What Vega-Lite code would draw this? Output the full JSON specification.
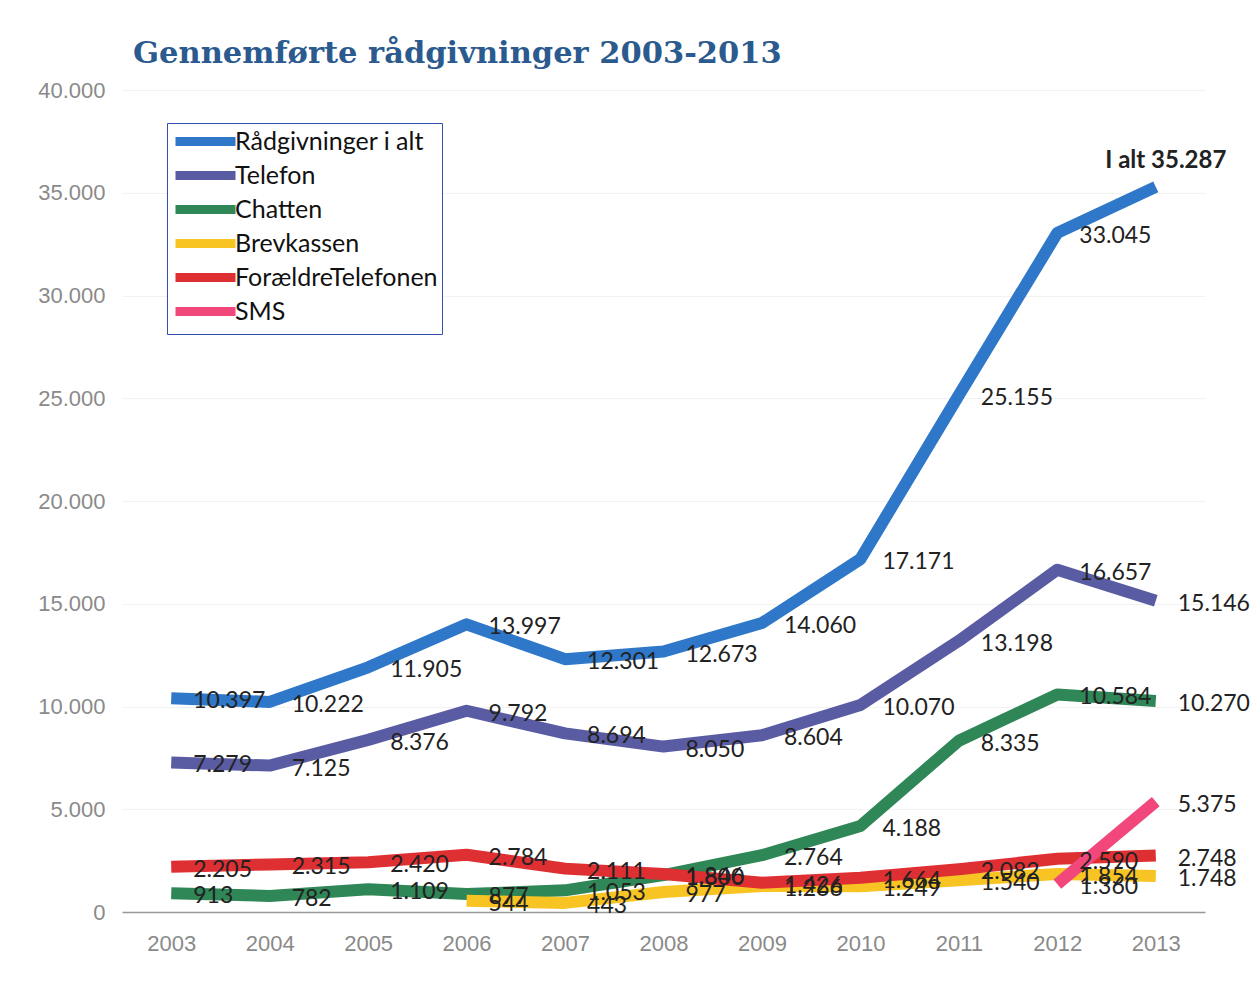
{
  "$schema": "https://vega.github.io/schema/vega-lite/v6.json",
  "width": 1083,
  "height": 822,
  "autosize": {"type": "none"},
  "padding": {"left": 122, "top": 90, "right": 53, "bottom": 74},
  "background": "white",
  "config": {"view": {"stroke": null}},
  "title": {
    "text": "Gennemførte rådgivninger 2003-2013",
    "anchor": "start",
    "frame": "group",
    "dx": 11,
    "offset": 10,
    "font": "DejaVu Serif",
    "fontWeight": "bold",
    "fontSize": 30.5,
    "color": "#2b5a8e"
  },
  "data": {
    "values": [
      {"year": "2003", "series": "Rådgivninger i alt", "value": 10397},
      {"year": "2004", "series": "Rådgivninger i alt", "value": 10222},
      {"year": "2005", "series": "Rådgivninger i alt", "value": 11905},
      {"year": "2006", "series": "Rådgivninger i alt", "value": 13997},
      {"year": "2007", "series": "Rådgivninger i alt", "value": 12301},
      {"year": "2008", "series": "Rådgivninger i alt", "value": 12673},
      {"year": "2009", "series": "Rådgivninger i alt", "value": 14060},
      {"year": "2010", "series": "Rådgivninger i alt", "value": 17171},
      {"year": "2011", "series": "Rådgivninger i alt", "value": 25155},
      {"year": "2012", "series": "Rådgivninger i alt", "value": 33045},
      {"year": "2013", "series": "Rådgivninger i alt", "value": 35287},
      {"year": "2003", "series": "Telefon", "value": 7279},
      {"year": "2004", "series": "Telefon", "value": 7125},
      {"year": "2005", "series": "Telefon", "value": 8376},
      {"year": "2006", "series": "Telefon", "value": 9792},
      {"year": "2007", "series": "Telefon", "value": 8694},
      {"year": "2008", "series": "Telefon", "value": 8050},
      {"year": "2009", "series": "Telefon", "value": 8604},
      {"year": "2010", "series": "Telefon", "value": 10070},
      {"year": "2011", "series": "Telefon", "value": 13198},
      {"year": "2012", "series": "Telefon", "value": 16657},
      {"year": "2013", "series": "Telefon", "value": 15146},
      {"year": "2003", "series": "Chatten", "value": 913},
      {"year": "2004", "series": "Chatten", "value": 782},
      {"year": "2005", "series": "Chatten", "value": 1109},
      {"year": "2006", "series": "Chatten", "value": 877},
      {"year": "2007", "series": "Chatten", "value": 1053},
      {"year": "2008", "series": "Chatten", "value": 1800},
      {"year": "2009", "series": "Chatten", "value": 2764},
      {"year": "2010", "series": "Chatten", "value": 4188},
      {"year": "2011", "series": "Chatten", "value": 8335},
      {"year": "2012", "series": "Chatten", "value": 10584},
      {"year": "2013", "series": "Chatten", "value": 10270},
      {"year": "2006", "series": "Brevkassen", "value": 544},
      {"year": "2007", "series": "Brevkassen", "value": 443},
      {"year": "2008", "series": "Brevkassen", "value": 977},
      {"year": "2009", "series": "Brevkassen", "value": 1266},
      {"year": "2010", "series": "Brevkassen", "value": 1249},
      {"year": "2011", "series": "Brevkassen", "value": 1540},
      {"year": "2012", "series": "Brevkassen", "value": 1854},
      {"year": "2013", "series": "Brevkassen", "value": 1748},
      {"year": "2003", "series": "ForældreTelefonen", "value": 2205},
      {"year": "2004", "series": "ForældreTelefonen", "value": 2315},
      {"year": "2005", "series": "ForældreTelefonen", "value": 2420},
      {"year": "2006", "series": "ForældreTelefonen", "value": 2784},
      {"year": "2007", "series": "ForældreTelefonen", "value": 2111},
      {"year": "2008", "series": "ForældreTelefonen", "value": 1846},
      {"year": "2009", "series": "ForældreTelefonen", "value": 1426},
      {"year": "2010", "series": "ForældreTelefonen", "value": 1664},
      {"year": "2011", "series": "ForældreTelefonen", "value": 2082},
      {"year": "2012", "series": "ForældreTelefonen", "value": 2590},
      {"year": "2013", "series": "ForældreTelefonen", "value": 2748},
      {"year": "2012", "series": "SMS", "value": 1360},
      {"year": "2013", "series": "SMS", "value": 5375}
    ]
  },
  "encoding": {
    "x": {
      "field": "year",
      "type": "ordinal",
      "scale": {"type": "point", "padding": 0.5},
      "axis": {
        "title": null,
        "labelAngle": 0,
        "domainColor": "#999999",
        "domainWidth": 1.5,
        "ticks": false,
        "grid": false,
        "labelFont": "Liberation Sans",
        "labelFontSize": 22,
        "labelColor": "#8a8a8a",
        "labelPadding": 21
      }
    },
    "y": {
      "field": "value",
      "type": "quantitative",
      "scale": {"domain": [0, 40000], "nice": false},
      "axis": {
        "title": null,
        "domain": false,
        "ticks": false,
        "values": [0, 5000, 10000, 15000, 20000, 25000, 30000, 35000, 40000],
        "labelExpr": "replace(format(datum.value, ','), ',', '.')",
        "labelFont": "Liberation Sans",
        "labelFontSize": 22,
        "labelColor": "#8a8a8a",
        "labelPadding": 17,
        "gridColor": "#f2f2f2"
      }
    }
  },
  "layer": [
    {
      "mark": {"type": "line", "strokeWidth": 12, "strokeCap": "butt", "strokeJoin": "round", "interpolate": "linear"},
      "encoding": {
        "color": {
          "field": "series",
          "type": "nominal",
          "scale": {
            "domain": ["Rådgivninger i alt", "Telefon", "Chatten", "Brevkassen", "ForældreTelefonen", "SMS"],
            "range": ["#2f77c8", "#5a5ca3", "#2f8656", "#f8c424", "#de2f33", "#f2477a"]
          },
          "legend": {
            "title": null,
            "orient": "none",
            "legendX": 45,
            "legendY": 33,
            "strokeColor": "#3050aa",
            "fillColor": "white",
            "padding": 4,
            "rowPadding": -3,
            "labelFont": "Lato",
            "labelFontSize": 25,
            "labelColor": "#111111",
            "labelLimit": 400,
            "labelOffset": 35,
            "symbolType": "M-1,0H5",
            "symbolSize": 400,
            "symbolStrokeWidth": 9
          }
        }
      }
    },
    {
      "transform": [{"filter": "!(datum.series == 'Rådgivninger i alt' && datum.year == '2013')"}],
      "mark": {
        "type": "text",
        "align": "left",
        "baseline": "middle",
        "dx": 22,
        "dy": 3,
        "font": "Lato",
        "fontSize": 23,
        "color": "#222222",
        "text": {"expr": "replace(format(datum.value, ','), ',', '.')"}
      }
    },
    {
      "transform": [{"filter": "datum.series == 'Rådgivninger i alt' && datum.year == '2013'"}],
      "mark": {
        "type": "text",
        "align": "center",
        "baseline": "middle",
        "dx": 10,
        "dy": -26,
        "font": "Lato",
        "fontWeight": "bold",
        "fontSize": 24,
        "color": "#222222",
        "text": {"expr": "'I alt ' + replace(format(datum.value, ','), ',', '.')"}
      }
    }
  ]
}
